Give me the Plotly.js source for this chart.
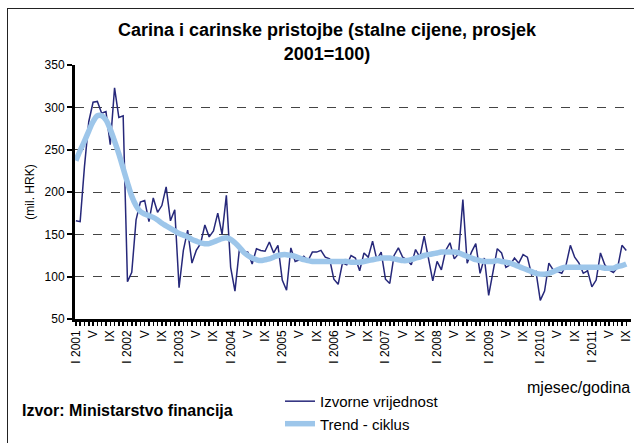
<!DOCTYPE html>
<html>
<head>
<meta charset="utf-8">
<script src="https://cdn.plot.ly/plotly-3.0.1.min.js"></script>
<style>
html,body{margin:0;padding:0;background:#fff;overflow:hidden;}
#chart{width:634px;height:443px;}
#frame{position:absolute;left:7px;top:8px;width:700px;height:500px;border:1px solid #222;pointer-events:none;}
</style>
</head>
<body>
<div id="chart"></div>
<div id="frame"></div>
<script>
// months from I 2001 to IX 2011 (index 0..128)
const monthNames = ["I","II","III","IV","V","VI","VII","VIII","IX","X","XI","XII"];
const startYear = 2001;
const monthCount = 129;

const izvorne = [
  166,165,230,283,306,307,293,295,256,323,288,290,
  94,105,167,188,190,165,193,176,184,206,166,179,
  87,131,155,116,131,139,161,147,154,175,150,196,
  111,83,131,130,129,115,133,131,130,141,128,137,
  96,84,134,118,120,124,119,129,129,131,123,121,
  97,91,116,114,125,122,107,128,123,142,120,129,
  97,92,125,134,123,120,114,132,123,148,120,95,
  118,108,131,140,121,127,191,116,129,139,104,122,
  78,104,133,128,111,114,122,116,126,123,102,106,
  72,83,116,108,106,104,114,137,123,116,104,107,
  88,96,128,114,108,105,111,137,131
];

const trend = [
  237,249,260,272,283,290,290,285,274,260,245,228,
  211,195,184,177,174,172,170,167,163,160,157,154,
  151,149,147,144,142,140,139,139,141,143,145,146,
  144,140,135,129,125,122,120,119,120,121,123,125,
  126,126,125,124,122,120,119,118,118,118,118,118,
  118,118,118,118,117,117,117,118,119,120,121,122,
  122,122,121,120,119,119,120,122,123,125,126,127,
  128,129,129,129,129,128,126,124,122,120,119,118,
  118,118,119,118,117,116,114,112,110,108,106,104,
  103,103,104,106,108,110,111,111,111,111,111,111,
  111,111,111,110,110,110,112,113,115
];

const seriesNames = ["Izvorne vrijednost", "Trend - ciklus"];

const xIdx = [];
const tickText = [];
for (let i = 0; i < monthCount; i++) {
  xIdx.push(i);
  const m = i % 12;
  if (m === 0) tickText.push("I " + (startYear + Math.floor(i / 12)));
  else if (m === 4 || m === 8) tickText.push(monthNames[m]);
  else tickText.push("");
}

const font = "Liberation Sans, Arial, sans-serif";

const traces = [
  {x: xIdx, y: izvorne, type: "scatter", mode: "lines", name: seriesNames[0],
   line: {color: "#26287A", width: 1.5}},
  {x: xIdx, y: trend, type: "scatter", mode: "lines", name: seriesNames[1],
   line: {color: "#9DC6EA", width: 5.5, shape: "spline"}}
];

const L = 75, R = 3, T = 65, B = 116;
const pw = 634 - L - R, ph = 443 - T - B;
const px = v => (v - L) / pw;
const py = v => (443 - B - v) / ph;

const layout = {
  width: 634, height: 443,
  margin: {l: L, r: R, t: T, b: B},
  paper_bgcolor: "#fff", plot_bgcolor: "#fff",
  font: {family: font, color: "#000", size: 12},
  title: {text: "<b>Carina i carinske pristojbe (stalne cijene, prosjek<br>2001=100)</b>",
          font: {family: font, size: 18, color: "#000"}, x: 327 / 634, xref: "container",
          y: 0.918, yref: "container", yanchor: "top"},
  xaxis: {
    range: [-0.2, 129.1], tickmode: "array", tickvals: xIdx, ticktext: tickText,
    tickangle: -90, ticks: "outside", ticklen: 4, tickwidth: 1.5, tickcolor: "#000",
    showline: true, linecolor: "#000", linewidth: 2.5, showgrid: false, zeroline: false,
    tickfont: {family: font, size: 12, color: "#000"}
  },
  yaxis: {
    range: [50, 350], dtick: 50, tick0: 50, ticks: "outside", ticklen: 5, tickwidth: 2,
    tickcolor: "#000", showline: true, linecolor: "#000", linewidth: 3,
    showgrid: true, gridcolor: "#444", griddash: "dash", gridwidth: 1, zeroline: false,
    tickfont: {family: font, size: 12, color: "#000"},
    title: {text: "(mil. HRK)", font: {family: font, size: 12, color: "#000"}, standoff: 8}
  },
  showlegend: true,
  legend: {x: px(280), xanchor: "left", y: py(395), yanchor: "top",
           font: {family: font, size: 15, color: "#000"}, tracegroupgap: 0,
           bgcolor: "rgba(0,0,0,0)", itemwidth: 30},
  annotations: [
    {text: "<b>Izvor: Ministarstvo financija</b>", xref: "paper", yref: "paper",
     x: px(20), y: py(421), xanchor: "left", yanchor: "middle", showarrow: false,
     font: {family: font, size: 16, color: "#000"}},
    {text: "mjesec/godina", xref: "paper", yref: "paper",
     x: px(632), y: py(398), xanchor: "right", yanchor: "middle", showarrow: false,
     font: {family: font, size: 16, color: "#000"}}
  ]
};

Plotly.newPlot("chart", traces, layout, {displayModeBar: false, staticPlot: true});
</script>
</body>
</html>
